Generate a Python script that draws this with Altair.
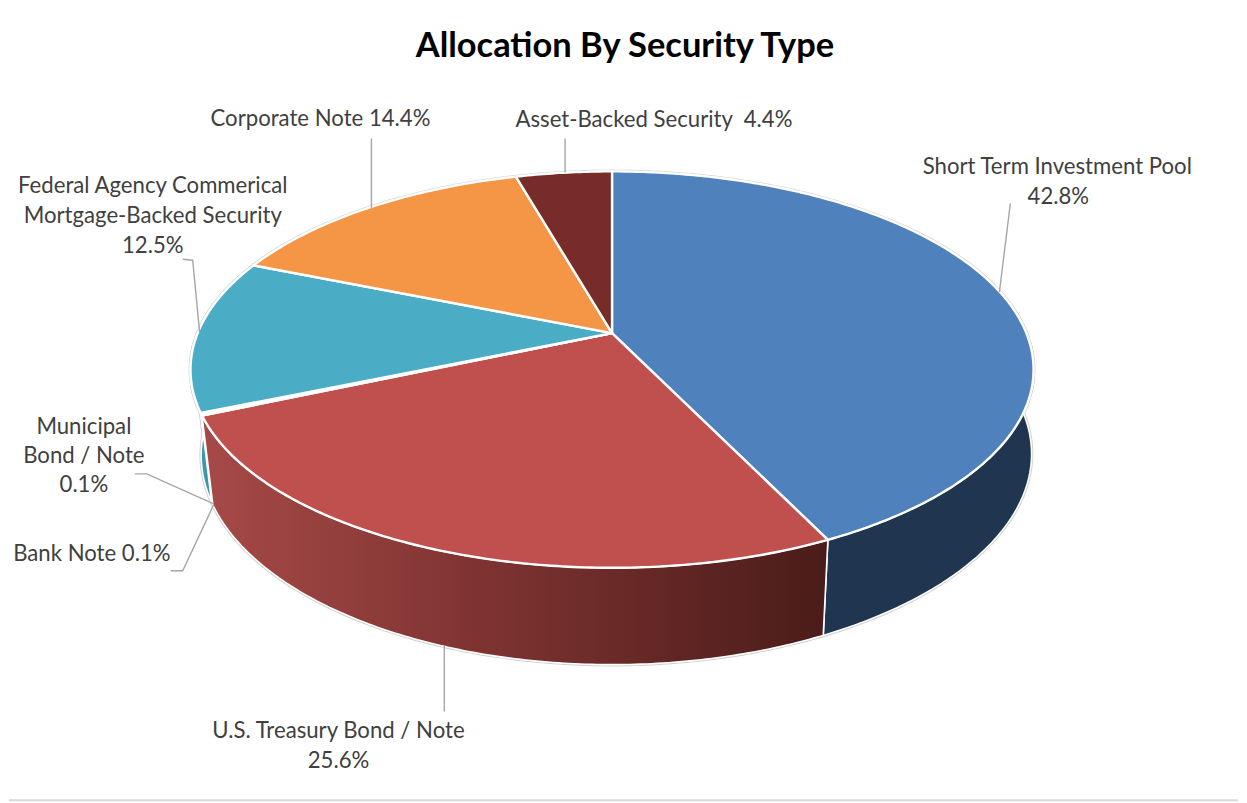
import math
import altair as alt

# ---- data ----
categories = ["Short Term Investment Pool", "U.S. Treasury Bond / Note", "Municipal Bond / Note",
              "Bank Note", "Federal Agency Commerical Mortgage-Backed Security",
              "Corporate Note", "Asset-Backed Security"]
values = [42.8, 25.6, 0.1, 0.1, 12.5, 14.4, 4.4]
top_colors = ["#4f81bd", "#c0504d", "#4bacc6", "#9bbb59", "#4bacc6", "#f59647", "#772c2a"]
wall_colors = ["#1f3550", "#a04543", "#3a97b0", "#3a97b0", "#3a97b0", "#b86a2c", "#4a1c19"]

title_text = "Allocation By Security Type"

label_lines = ["Short Term Investment Pool", "42.8%", "Asset-Backed Security\u00a0 4.4%", "Corporate Note 14.4%",
               "Federal Agency Commerical", "Mortgage-Backed Security", "12.5%",
               "Municipal", "Bond / Note", "0.1%", "Bank Note 0.1%",
               "U.S. Treasury Bond / Note", "25.6%"]
label_x = [1058, 1059, 654, 320, 152, 152, 152, 83, 83, 83, 91, 338, 338]
label_y = [167, 197, 120, 119, 186, 216, 246, 427, 456, 485, 554, 732, 762]

leaders = [
    [(1011, 203), (1000, 292)],
    [(565, 138), (565, 172)],
    [(371, 138), (371, 208)],
    [(182, 259), (192, 260), (199, 333)],
    [(134, 474), (146, 474), (213, 504)],
    [(170, 571), (182, 571), (213, 505)],
    [(444, 646), (444, 712)],
]

# ---- layout of the tilted disc (page pixels) ----
OFF = 8
CX, CY = 612, 333
KX, KY, P = 415.0, 191.8, 0.184
VY, F0 = 3800.0, 0.0245
RIGHT_PUSH = 9.0


def top(theta):
    u, v = math.sin(theta), -math.cos(theta)
    w = 1 - P * v
    return CX + KX * u / w, CY + KY * v / w, w


def bottom(theta):
    x, y, w = top(theta)
    f = F0 / w
    s = math.sin(theta)
    return x + (CX - x) * f + (RIGHT_PUSH * s * s if s > 0 else 0), y + (VY - y) * f


def pt(p):
    return [p[0] - OFF, p[1] - OFF]


def feature(ring, name, color):
    return {"type": "Feature", "properties": {"name": name, "color": color},
            "geometry": {"type": "Polygon", "coordinates": [ring + [ring[0]]]}}


def arc(a, b):
    n = max(2, int(abs(b - a) * 90))
    return [a + (b - a) * i / n for i in range(n + 1)]


total = sum(values)
edges = [0.0]
for val in values:
    edges.append(edges[-1] + val / total * 2 * math.pi)

top_features, wall_features, red_wall = [], [], []
VIS_START, VIS_END = math.radians(55), math.radians(300)
for i, name in enumerate(categories):
    a, b = edges[i], edges[i + 1]
    ring = [pt((CX, CY))] + [pt(top(t)) for t in arc(a, b)]
    top_features.append(feature(ring, name, top_colors[i]))
    wa, wb = max(a, VIS_START), min(b, VIS_END)
    if wb > wa:
        wall = [pt(top(t)) for t in arc(wa, wb)] + [pt(bottom(t)) for t in arc(wb, wa)]
        f = feature(wall, name, wall_colors[i])
        (red_wall if i == 1 else wall_features).append(f)


def shapes(features, **kw):
    return alt.Chart(alt.Data(values=features)).mark_geoshape(**kw).encode(
        color=alt.Color("properties.color:N", scale=None, legend=None)
    ).project(type="identity", scale=1, translate=[0, 0])


halo = alt.Chart(alt.Data(values=wall_features + red_wall + top_features)).mark_geoshape(
    stroke="#d0d0d0", strokeWidth=3.5, fill="#d0d0d0"
).project(type="identity", scale=1, translate=[0, 0])

walls = shapes(wall_features, stroke="white", strokeWidth=1.6)
red = alt.Chart(alt.Data(values=red_wall)).mark_geoshape(
    stroke="white", strokeWidth=1.6,
    fill=alt.Gradient(gradient="linear", x1=0, y1=0, x2=1, y2=0,
                      stops=[alt.GradientStop(offset=0, color="#a64a48"),
                             alt.GradientStop(offset=0.45, color="#7e3331"),
                             alt.GradientStop(offset=1, color="#4a1c19")])
).project(type="identity", scale=1, translate=[0, 0])
tops = shapes(top_features, stroke="white", strokeWidth=2.4, strokeJoin="round")

leader_rows = [{"x": x - OFF, "y": y - OFF, "id": i, "o": j}
               for i, path in enumerate(leaders) for j, (x, y) in enumerate(path)]
leader_layer = alt.Chart(alt.Data(values=leader_rows)).mark_line(color="#a6a6a6", strokeWidth=1.4).encode(
    x=alt.X("x:Q", scale=None, axis=None), y=alt.Y("y:Q", scale=None, axis=None),
    detail="id:N", order="o:Q")

label_rows = [{"t": t, "x": x - OFF, "y": y - OFF} for t, x, y in zip(label_lines, label_x, label_y)]
labels = alt.Chart(alt.Data(values=label_rows)).mark_text(
    font="Lato", fontSize=22.2, color="#404040", align="center", baseline="middle"
).encode(x=alt.X("x:Q", scale=None, axis=None), y=alt.Y("y:Q", scale=None, axis=None), text="t:N")

title = alt.Chart(alt.Data(values=[{"t": title_text, "x": 625 - OFF, "y": 46 - OFF}])).mark_text(
    font="Lato", fontSize=34.5, fontWeight="bold", color="#000000", align="center", baseline="middle"
).encode(x=alt.X("x:Q", scale=None, axis=None), y=alt.Y("y:Q", scale=None, axis=None), text="t:N")

frame = alt.Chart(alt.Data(values=[{"x": 0, "x2": 1231, "y": 793}])).mark_rule(
    color="#d9d9d9", strokeWidth=2
).encode(x=alt.X("x:Q", scale=None, axis=None), x2="x2:Q", y=alt.Y("y:Q", scale=None, axis=None))

chart = alt.layer(halo, walls, red, tops, leader_layer, labels, title, frame).properties(
    width=1231, height=795, padding=0, background="white"
).configure_view(stroke=None)

chart.save("out.html", embed_options={"renderer": "svg", "actions": False})
